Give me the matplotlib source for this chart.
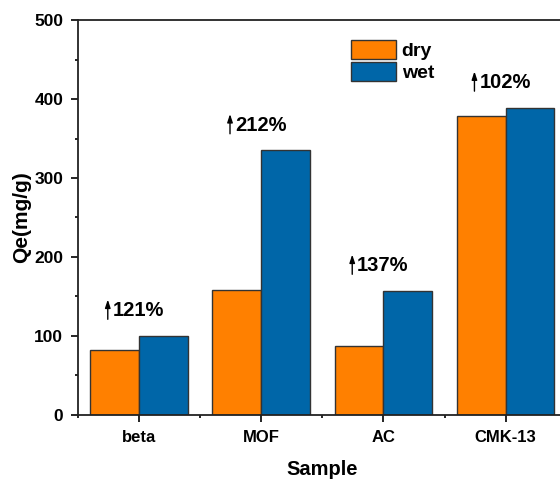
import matplotlib
matplotlib.use('Agg')
import matplotlib.pyplot as plt
from matplotlib.ticker import MultipleLocator
import numpy as np

plt.rcParams['font.family'] = ['Liberation Sans', 'DejaVu Sans']
plt.rcParams['font.weight'] = 'bold'

# data
samples = ['beta', 'MOF', 'AC', 'CMK-13']
dry = [82, 158, 87, 378]
wet = [100, 335, 157, 389]
increase = ['121%', '212%', '137%', '102%']

orange = '#FF8000'
blue = '#0066A8'

fig = plt.figure(figsize=(5.6, 4.79), dpi=100)
ax = fig.add_axes([0.139, 0.134, 0.873, 0.824])

x = np.arange(1, len(samples) + 1)
w = 0.4
ax.bar(x - w / 2, dry, w, color=orange, edgecolor='#333333', linewidth=1, label='dry')
ax.bar(x + w / 2, wet, w, color=blue, edgecolor='#333333', linewidth=1, label='wet')

# percentage annotations with small up arrows
for xi, top, txt in zip(x, wet, increase):
    ax.annotate('', xy=(xi - 0.255, top + 46), xytext=(xi - 0.255, top + 21),
                arrowprops=dict(arrowstyle='-|>,head_length=0.6,head_width=0.2',
                                lw=1, color='black', mutation_scale=8,
                                shrinkA=0, shrinkB=0))
    ax.text(xi - 0.215, top + 25, txt, fontsize=14.5, fontweight='bold',
            ha='left', va='baseline')

ax.set_xlim(0.5, 4.5)
ax.set_ylim(0, 500)
ax.set_xticks(x)
ax.set_xticklabels(samples, fontsize=12, fontweight='bold')
ax.set_xticks(np.arange(0.5, 5, 1), minor=True)
ax.yaxis.set_major_locator(MultipleLocator(100))
ax.yaxis.set_minor_locator(MultipleLocator(50))
ax.tick_params(axis='both', which='major', direction='out', length=5, width=1.2)
ax.tick_params(axis='both', which='minor', direction='out', length=2.5, width=1.2)
ax.tick_params(axis='x', which='major', pad=6)
ax.tick_params(axis='y', which='major', labelsize=12.5, pad=5.5)
for lab in ax.get_yticklabels():
    lab.set_fontweight('bold')

for s in ['left', 'bottom', 'top', 'right']:
    ax.spines[s].set_linewidth(1.3)
    ax.spines[s].set_color('#222222')

ax.set_xlabel('Sample', fontsize=14.5, fontweight='bold', labelpad=11)
ax.set_ylabel('Qe(mg/g)', fontsize=15, fontweight='bold', labelpad=2)

leg = ax.legend(loc='upper left', bbox_to_anchor=(0.558, 0.95), frameon=False,
                fontsize=14, handlelength=2.32, handleheight=1.13, handletextpad=0.3,
                labelspacing=0.1, borderaxespad=0, borderpad=0)
for t in leg.get_texts():
    t.set_fontweight('bold')

fig.savefig('out.png', dpi=100)
